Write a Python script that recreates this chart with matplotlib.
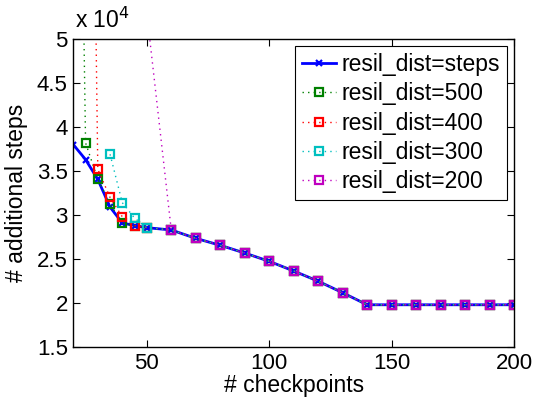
import matplotlib
matplotlib.use("Agg")
import matplotlib.pyplot as plt
from matplotlib.ticker import FuncFormatter

plt.rcParams['font.family'] = ['Liberation Sans', 'DejaVu Sans']

# data
x_steps = [20, 25, 30, 35, 40, 45, 50, 60, 70, 80, 90, 100, 110, 120, 130, 140, 150, 160, 170, 180, 190, 200]
y_steps = [38000, 36300, 34050, 30900, 29100, 28800, 28560, 28300, 27350, 26560, 25680, 24740, 23640, 22480, 21170, 19800, 19800, 19800, 19800, 19800, 19800, 19800]

x_500 = [20, 25, 30, 35, 40, 45, 50, 60, 70, 80, 90, 100, 110, 120, 130, 140, 150, 160, 170, 180, 190, 200]
y_500 = [130000, 38200, 34050, 31300, 29050, 28800, 28560, 28300, 27350, 26560, 25680, 24740, 23640, 22480, 21170, 19800, 19800, 19800, 19800, 19800, 19800, 19800]

x_400 = [25, 30, 35, 40, 45, 50, 60, 70, 80, 90, 100, 110, 120, 130, 140, 150, 160, 170, 180, 190, 200]
y_400 = [140000, 35200, 32000, 29800, 28800, 28560, 28300, 27350, 26560, 25680, 24740, 23640, 22480, 21170, 19800, 19800, 19800, 19800, 19800, 19800, 19800]

x_300 = [35, 40, 45, 50, 60, 70, 80, 90, 100, 110, 120, 130, 140, 150, 160, 170, 180, 190, 200]
y_300 = [36900, 31400, 29660, 28560, 28300, 27350, 26560, 25680, 24740, 23640, 22480, 21170, 19800, 19800, 19800, 19800, 19800, 19800, 19800]

x_200 = [50, 60, 70, 80, 90, 100, 110, 120, 130, 140, 150, 160, 170, 180, 190, 200]
y_200 = [53000, 28300, 27350, 26560, 25680, 24740, 23640, 22480, 21170, 19800, 19800, 19800, 19800, 19800, 19800, 19800]

labels = ['resil_dist=steps', 'resil_dist=500', 'resil_dist=400', 'resil_dist=300', 'resil_dist=200']
yticks = [15000, 20000, 25000, 30000, 35000, 40000, 45000, 50000]
xticks = [50, 100, 150, 200]

fig = plt.figure(figsize=(5.36, 3.98), dpi=100)
ax = fig.add_axes([0.1368, 0.1281, 0.8222, 0.7739])

dot = (0, (1, 3))
ax.plot(x_steps, y_steps, '-', color='blue', lw=2.0, marker='x', ms=5, mew=1.6, label=labels[0])
series = [(x_500, y_500, (0, 0.5, 0)), (x_400, y_400, (1, 0, 0)),
          (x_300, y_300, (0, 0.75, 0.75)), (x_200, y_200, (0.75, 0, 0.75))]
for (xs, ys, c), lab in zip(series, labels[1:]):
    ax.plot(xs, ys, linestyle=dot, color=c, lw=1.0, marker='s', ms=5.5,
            mfc='none', mec=c, mew=1.6, label=lab)

ax.set_xlim(20, 200)
ax.set_ylim(15000, 50000)
ax.set_xticks(xticks)
ax.set_yticks(yticks)
ax.yaxis.set_major_formatter(FuncFormatter(lambda v, p: ('%g' % (v / 1e4))))
ax.tick_params(direction='in', length=5, width=0.8, top=True, right=True,
               labelsize=16, pad=4)
for s in ax.spines.values():
    s.set_linewidth(1.0)

ax.set_xlabel('# checkpoints', fontsize=16.5, labelpad=0)
ax.set_ylabel('# additional steps', fontsize=16.5, labelpad=6)

ax.text(0.003, 1.02, r'x 10$^{4}$', transform=ax.transAxes, fontsize=16.5,
        ha='left', va='bottom')

leg = ax.legend(loc='upper right', fontsize=16.5, frameon=True, fancybox=False,
                edgecolor='black', framealpha=1, borderaxespad=0.3,
                handlelength=1.5, handletextpad=0.25, labelspacing=0.28,
                borderpad=0.3)
leg.get_frame().set_linewidth(0.8)

fig.savefig('out.png', dpi=100)
